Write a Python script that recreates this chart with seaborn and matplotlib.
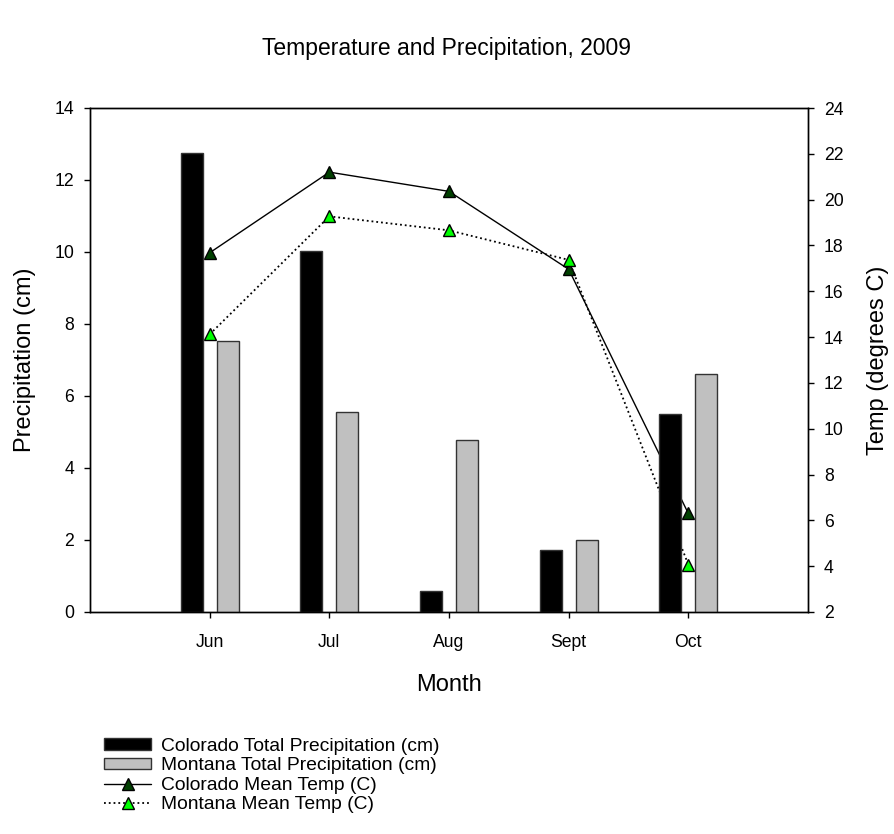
import matplotlib
matplotlib.use('Agg')
import matplotlib.pyplot as plt
import seaborn as sns
import pandas as pd
import numpy as np
from matplotlib.patches import Patch
from matplotlib.lines import Line2D

months = ['Jun', 'Jul', 'Aug', 'Sept', 'Oct']
colorado_precip = [12.76, 10.02, 0.57, 1.71, 5.49]
montana_precip = [7.52, 5.55, 4.77, 2.01, 6.62]
colorado_temp = [17.68, 21.2, 20.36, 16.96, 6.3]
montana_temp = [14.12, 19.27, 18.66, 17.37, 4.07]

sns.set_style('ticks')
plt.rcParams['font.family'] = ['Liberation Sans', 'DejaVu Sans']
plt.rcParams['text.color'] = 'black'
plt.rcParams['axes.labelcolor'] = 'black'

precip = pd.DataFrame({
    'Month': months * 2,
    'Precip': colorado_precip + montana_precip,
    'State': ['Colorado'] * 5 + ['Montana'] * 5,
})
temps = pd.DataFrame({'pos': np.arange(len(months)),
                      'co': colorado_temp, 'mt': montana_temp})

fig = plt.figure(figsize=(8.94, 8.34), dpi=100)
ax = fig.add_axes([90 / 894, 1 - 612 / 834, 718 / 894, 504 / 834])
ax2 = ax.twinx()

sns.barplot(data=precip, x='Month', y='Precip', hue='State', ax=ax,
            palette=['black', '#c0c0c0'], width=0.6, gap=0.39,
            edgecolor='#333333', linewidth=1, legend=False)

sns.lineplot(data=temps, x='pos', y='co', ax=ax2, color='black', lw=1,
             marker='^', markersize=9, markerfacecolor='#004000',
             markeredgecolor='black', markeredgewidth=1)
sns.lineplot(data=temps, x='pos', y='mt', ax=ax2, color='black', lw=1.3,
             ls=':', marker='^', markersize=9, markerfacecolor='#00ff00',
             markeredgecolor='black', markeredgewidth=1)

# bars drawn over the temperature lines
ax.set_zorder(ax2.get_zorder() + 1)
ax.patch.set_visible(False)

ax.set_xlim(-1, 5)
ax.set_ylim(0, 14)
ax.set_yticks(range(0, 15, 2))
ax2.set_ylim(2, 24)
ax2.set_yticks(range(2, 25, 2))

ax.set_xlabel('Month', fontsize=17, labelpad=16.5)
ax.set_ylabel('Precipitation (cm)', fontsize=17, labelpad=13)
ax2.set_ylabel('Temp (degrees C)', fontsize=17, labelpad=16.5)

for a in (ax, ax2):
    a.tick_params(direction='out', length=4.5, width=1, labelsize=12.7,
                  colors='black')
    a.tick_params(axis='y', pad=7)
    for s in a.spines.values():
        s.set_visible(True)
        s.set_linewidth(1)
        s.set_color('black')
ax.tick_params(axis='x', pad=11.5)

fig.text(0.5, 1 - 48 / 834, 'Temperature and Precipitation, 2009',
         ha='center', va='center', fontsize=16.5)

handles = [
    Patch(facecolor='black', edgecolor='#333333'),
    Patch(facecolor='#c0c0c0', edgecolor='#333333'),
    Line2D([], [], color='black', lw=1, marker='^', markersize=9,
           markerfacecolor='#004000', markeredgecolor='black'),
    Line2D([], [], color='black', lw=1.3, ls=':', marker='^', markersize=9,
           markerfacecolor='#00ff00', markeredgecolor='black'),
]
labels = ['Colorado Total Precipitation (cm)', 'Montana Total Precipitation (cm)',
          'Colorado Mean Temp (C)', 'Montana Mean Temp (C)']
fig.legend(handles, labels, loc='upper left',
           bbox_to_anchor=(104 / 894, 1 - 738 / 834), frameon=False,
           fontsize=13.9, borderpad=0, borderaxespad=0, labelspacing=0.125,
           handlelength=2.45, handletextpad=0.5, handleheight=0.55)

fig.savefig('out.png', dpi=100)
